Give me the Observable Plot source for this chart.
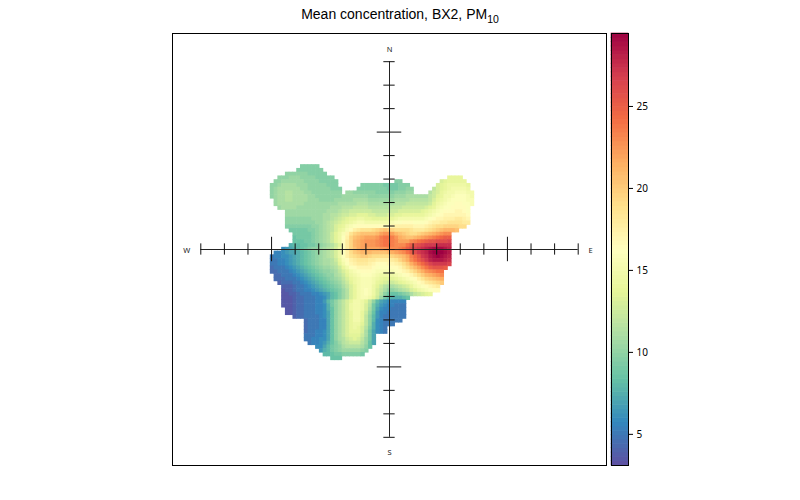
<!DOCTYPE html>
<html><head><meta charset="utf-8">
<script src="https://cdn.jsdelivr.net/npm/d3@7"></script>
<script src="https://cdn.jsdelivr.net/npm/@observablehq/plot@0.6"></script>
<style>
html,body{margin:0;padding:0;background:#fff}
#c{position:relative;width:800px;height:500px;overflow:hidden;font-family:"Liberation Sans",sans-serif}
#c svg{position:absolute;top:0;background:none}
#t{position:absolute;left:0;width:800px;top:6px;text-align:center;font-size:14px;line-height:16px;color:#000;white-space:nowrap}
#t sub{font-size:10.5px;line-height:0}
</style></head><body><div id="c"><div id="t">Mean concentration, BX2, PM<sub>10</sub></div></div>
<script>
const titleText = "Mean concentration, BX2, PM10";
const spectral = ["#5E4FA2","#3288BD","#66C2A5","#ABDDA4","#E6F598","#FFFFBF","#FEE08B","#FDAE61","#F46D43","#D53E4F","#9E0142"];
const valueRange = [3.1, 29.45];
const cbarTicks = [5,10,15,20,25];
const axisTicks = [-8,-7,-6,-5,-4,-3,-2,-1,0,1,2,3,4,5,6,7,8];
const longTicks = [-5,5];
const compassLabels = ["N","E","S","W"];
const compassX = [0,8.52,0,-8.6];
const compassY = [8.5,-0.05,-8.65,-0.05];
const cellStep = 0.16;
// row index (downward from centre), first column index
const rowIndex = [-22,-21,-20,-19,-19,-18,-18,-18,-17,-17,-17,-16,-16,-16,-15,-15,-15,-14,-13,-12,-11,-10,-9,-8,-7,-6,-5,-4,-3,-2,-1,0,1,2,3,4,5,6,7,8,9,10,11,12,13,14,15,16,17,18,19,20,21,22,23,24,25,26,27,28,29];
const rowStart = [-23,-24,-27,-29,16,-30,2,14,-31,-7,13,-31,-8,12,-31,-11,11,-31,-30,-30,-29,-27,-27,-27,-27,-27,-26,-25,-25,-25,-26,-28,-30,-31,-31,-31,-31,-31,-30,-30,-29,-28,-28,-28,-28,-28,-28,-27,-27,-25,-22,-22,-22,-22,-22,-22,-21,-19,-18,-17,-15];
const rowValues = [
[9.5,9.5,9.5,9.5,9.5],
[9.5,9.5,9.5,9.5,9.5,9.5,9.5],
[10,10,10,10,10,10,9.5,9.5,9.5,9.5,9.5],
[10,10,10,10.5,10.5,10.5,10,10,10,10,9.5,9.5,9.5,9.5,9.5],
[14,14,14,14],
[10,10,10.5,10.5,10.5,10.5,10.5,10.5,10,10,10,10,9.5,9.5,9.5,9.5,9.5],
[9.5,9.5],
[13,13.5,14,14,14,14,14],
[10,10,10.5,11,11,11,11,10.5,10.5,10.5,10,10,10,10,10,9.5,9.5,9.5],
[9.5,9.5,9.5,9.5,9.5,9.5,9,9,9,9,9.5,9.5,9.5],
[13,13.5,14,14.5,14.5,14.5,14.5,14.5,14],
[10,10.5,11,11,11,11,11,11,10.5,10.5,10,10,10,10,10,10,9.5,9.5,9.5],
[9.5,9.5,9.5,9.5,9.5,9.5,9.5,9.5,9,9,9,9.5,9.5,10,10],
[12,13,13.5,14,14.5,15,15,15,15,14.5],
[10,10.5,11,11,11.5,11.5,11,11,11,10.5,10.5,10,10,10,10,10,10,10,10],
[10.5,10.5,10,10,10,10,10,10,9.5,9.5,9.5,9.5,9.5,10,10,10,10.5,10.5],
[11.5,12.5,13,14,14.5,15,15,15.5,15.5,15.5,15,15],
[10,10.5,11,11,11.5,11.5,11,11,11,11,10.5,10.5,10,10,10,10,10,10,10, 10.5,10.5,10.5,10.5,10.5,10.5,10.5,10,10,10,10,10,10,10,10.5,10.5,10.5,11,11, 11,11,11,11,12,12.5,13.5,14,15,15,15.5,16,16,16,15.5,15],
[10.5,11,11,11.5,11.5,11,11,11,11,10.5,10.5,10.5,10,10,10,10,10.5,10.5, 10.5,10.5,10.5,11,11,11,11,10.5,10.5,10.5,10.5,10.5,10.5,10.5,11,11,11,11,11.5, 11.5,11.5,11.5,11.5,12,13,14,14.5,15,15.5,16,16,16,16,15.5,15.5],
[10.5,11,11,11,11,11,11,11,10.5,10.5,10.5,10.5,10.5,10.5,10.5,10.5,10.5,11, 11,11,11,11,11.5,11.5,11.5,11,11,11,11,11,11,11,11.5,11.5,11.5,12,12, 12,12,12,12,12.5,13.5,14.5,15,15.5,16,16,16.5,16.5,16,16,15.5],
[10.5,11,11,11,11,10.5,10.5,10.5,10.5,10.5,10.5,10.5,10.5,10.5,11,11,11, 11.5,11.5,11.5,12,12,12,12,11.5,11.5,11.5,11.5,11.5,11.5,12,12,12,12.5,12.5,12.5, 12.5,12.5,12.5,13,13.5,14,15,15.5,16,16,16.5,16.5,16.5,16.5,16],
[10.5,10.5,10.5,10.5,10.5,10.5,10.5,10.5,10.5,10.5,10.5,11,11,11,11.5, 12,12,12.5,12.5,12.5,12.5,12.5,12.5,12,12,12,12,12,12.5,12.5,13,13,13,13, 13,13,13.5,14,14.5,15,15.5,16,16.5,16.5,16.5,17,17,16.5,16],
[10.5,10.5,10.5,10.5,10.5,10.5,10.5,10.5,10.5,10.5,11,11,11.5,11.5,12, 12.5,12.5,13,13,13.5,13.5,13.5,13,13,12.5,12.5,12.5,13,13,13.5,13.5,14,14,14, 14,14,14,14.5,15,15.5,16,16.5,17,17,17,17,17,17,16.5],
[10,10,10,10,10,10,10,10.5,10.5,10.5,11,11,11.5,12,12.5, 13,13.5,14,14,14.5,14.5,14,14,13.5,13.5,13.5,13.5,14,14,14.5,15,15,15,15, 15,15,15,15.5,16,16.5,17,17,17.5,17.5,17.5,18,18,17.5,17],
[10,10,10,10,10,10,10,10,10.5,10.5,11,11.5,12,12.5,13, 13.5,14,14.5,15,15.5,15.5,15,15,15,15,15,15,15,15.5,16,16,16.5,16.5,16.5, 16,16,16,16.5,17,17.5,17.5,18,18,18.5,18.5,18.5,18.5,18,18],
[9.5,9.5,9.5,9.5,9.5,9.5,9.5,10,10,10.5,11,11.5,12,13,13.5, 14,15,15.5,16,16.5,16.5,16.5,16.5,16.5,16.5,16.5,16.5,16.5,17,17.5,17.5,17.5,17.5,17.5, 17,17,17,17.5,18,18.5,19,19,19.5,19.5,19.5,19.5,19,19],
[9,9,9,9,9,9.5,9.5,10,10.5,11,11.5,12,13,14, 14.5,15.5,16.5,17.5,18,18.5,18.5,18.5,19,19.5,20,20.5,20,19.5,19,19,19,19,18.5, 18,18,18,18.5,19,19.5,20,20.5,21,21,21,20.5],
[9,9,9,9,9,9.5,10,10.5,11,11.5,12.5,13.5,14.5, 15.5,17,18.5,19.5,20,20.5,20.5,20.5,20.5,21,22,22.5,22.5,22,21,20.5,20,19.5,19, 19,19.5,20,20.5,21,21.5,22,22.5,23,23],
[8.5,9,9,9,9,9.5,10,10.5,11,11.5,12.5,13.5,14.5, 16,17.5,19.5,20.5,21,21.5,22,22,22,22.5,23.5,24,24,23.5,22.5,21.5,21,20.5,20.5, 21,21.5,22,22.5,23,23.5,24,24.5,25,25],
[8.5,8.5,8.5,9,9,9.5,10,10.5,11,11.5,12.5,13.5,14.5, 16.5,18,19.5,21,21.5,22,22.5,22.5,22.5,23,23.5,24,24,23.5,23,22,22,22,23, 23.5,24,24.5,25,25.5,25.5,26,26,26,26.5],
[7.5,8,8,8.5,8.5,9,9,9.5,10,10.5,11,11.5,12.5,13.5, 16.5,18,19.5,21,21.5,22,22.5,22.5,22.5,23,23.5,24,24,23.5,23,23,23,24,25, 25.5,26,26.5,27,27,27,27.5,27.5,27.5,27.5],
[6,6.5,7,7.5,8,8.5,9,9.5,10,10,10.5,11,11.5,12,13,14.5, 16.5,18,19.5,20.5,21.5,22,22,22,22,22,22.5,22.5,23,23,23,23.5,24,25,26, 26.5,27,27.5,28,28.5,29,29,29,28.5,28],
[5.5,5.5,6,6.5,7,7,7.5,8,8.5,9,9.5,10,10.5,11,11.5,12,13,14.5, 16,17.5,19,20,20.5,21,21,21,20.5,20.5,20.5,20.5,21,21.5,22,22.5,23,24,25, 26,27,27.5,28,29,29.5,29.5,29.5,29,28.5],
[5,5.5,5.5,6,6,6.5,7,7.5,8,8.5,9,9.5,10,10.5,11,11.5,12,13,14.5, 16,17.5,18.5,19,19.5,20,20,19.5,19,19,19,19,19,19.5,20,20.5,21,22,23.5, 24.5,25.5,27,27.5,28.5,29,29.5,29,28.5,28],
[5,5,5.5,5.5,6,6.5,7,7.5,8,8.5,9,9.5,10,10.5,11,11,11.5,12.5,14, 15.5,16.5,17.5,18,18.5,18.5,18.5,18,18,17.5,17.5,17.5,17.5,18,18.5,19.5,20.5,21.5,23, 24,25,26,27,28,28.5,28.5,28.5,28,27.5],
[5,5,5.5,5.5,6,6.5,7,7.5,8,8.5,9,9.5,10,10.5,11,11,11.5,12,13.5, 15,16,17,17.5,18,18,18,17.5,17,16.5,16.5,16.5,17,17,17.5,18,19,20,21.5, 22.5,23.5,24.5,25.5,26.5,27,27,27,27,26.5],
[4.5,5,5,5,5.5,6,6.5,7,7.5,8,8.5,9,9.5,10,10.5,10.5,11,11.5,12.5, 14,15,16,16.5,17,17,17,17,16.5,16,16,16,16,16.5,16.5,17,18,19,20, 21,22,23,24,25,25.5,25.5,25.5,25],
[4.5,4.5,5,5,5,5.5,6,6.5,7,7.5,8,8.5,9,9.5,10,10,10.5,11,12, 13,14,15,15.5,16,16.5,16.5,16.5,16,15.5,15.5,15.5,15.5,15.5,16,16.5,17,17.5,18.5, 19.5,20.5,21.5,22.5,23,23.5,24,24],
[4.5,4.5,5,5,5,5.5,6,6.5,7,7.5,8,8.5,9,9.5,10,10,11,11.5, 12.5,13.5,14.5,15,15.5,16,16,16,15.5,15,14.5,14.5,14.5,14.5,15,15.5,16,16.5,17, 18,19,20,21,21.5,22,22.5,23],
[4.5,4.5,4.5,5,5,5,5.5,6,6.5,7,7.5,8,8.5,9,9.5,10,10.5,11, 12,13,14,14.5,15,15.5,15.5,15.5,15,14.5,14,13.5,13.5,13.5,14,14.5,15,15.5,16, 16.5,17.5,18.5,19.5,20,20.5,21,21.5],
[4,4.5,4.5,4.5,5,5,5.5,6,6.5,7,7.5,8,8.5,9,9.5,10,10.5, 11.5,12.5,13.5,14.5,15,15.5,15.5,15.5,15,14,13.5,13,12.5,12.5,13,13.5,14,14.5,15, 15.5,16.5,17,18,18.5,19,19.5,20],
[4,4,4,4.5,5,5,5.5,6,6.5,7,7.5,8,8.5,9,9.5,10, 11,12,13,14,15,15.5,15.5,15.5,14.5,13.5,12.5,11.5,11,11,11.5,12,12.5,13,14, 15,15.5,16,16.5,17,17.5,18],
[3.5,4,4,4.5,5,5,5.5,5.5,6,6.5,7,7.5,8,8.5,9,9.5, 10.5,11.5,13,14,15,15.5,16,15.5,14.5,13,12,11,10,10,10.5,11,11.5,12,13, 13.5,14.5,15,15.5,16,16.5,16.5],
[3.5,3.5,4,4,4.5,5,5,5,5.5,5.5,6,6.5,7,8,8.5,9.5, 10.5,11.5,13,14,15,15.5,16,15.5,14.5,13,11.5,10,9,8.5,8.5,9,9.5,10,11, 12,12.5,13,13.5,14],
[3.5,3.5,3.5,4,4.5,4.5,5,5,5,5.5,5.5,6,7,8,8.5,9.5, 10.5,11.5,13,14,15,15.5,15.5,15,14,12.5,10.5,9,8,7.5,7.5,7.5,8,8.5],
[3.5,3.5,3.5,4,4.5,4.5,5,5,5,5.5,5.5, 6.5,8,9,10,11,12,13,14,15,15,14.5,13.5,12, 10,8,7,6.5,6,5.5,5.5,5.5,5.5],
[3.5,3.5,3.5,4,4.5,4.5,5,5,5,5.5,5.5, 6,7.5,9,10,11,12,13,14.5,15,15,14.5,13,11.5, 9,7.5,6.5,6,5.5,5.5,5,5,5],
[3.5,3.5,4,4.5,4.5,5,5,5,5.5,5.5, 6,7.5,8.5,10,11,12,13,14.5,15,15,14.5,13,11, 9,7,6,5.5,5.5,5,5,5,5],
[3.5,3.5,4,4.5,4.5,5,5,5,5.5,5.5, 6,7,8.5,10,11,12,13,14,15,15,14,12.5,10.5, 8.5,6.5,5.5,5.5,5,5,5,5,5],
[4,4.5,4.5,5,5,5,5,5.5, 6,7,8.5,10,11,12,13,14,15,15,14,12,10, 8,6.5,5.5,5,5,5,5,5,5],
[4.5,5,5,5,5.5, 5.5,7,8.5,10,11,12,13,14,15,15,14,12,10, 8,6,5.5,5,5,5,5,5],
[4.5,5,5,5,5.5, 5.5,7,8.5,10,11,12,13,14,14.5,14.5,13.5,12,10, 7.5,6,5.5,5,5,5],
[4.5,5,5,5,5.5, 5.5,7,8.5,10,11,12,13,14,14.5,14,13,11.5,9.5, 7.5,6,5.5,5],
[4.5,5,5,5.5,5.5, 6,7,8.5,10,11,12,13,14,14,14,13,11,9, 7,6,5.5,5],
[5,5,5,5.5,5.5, 6,7,8.5,10,11,12,13,13.5,13.5,13.5,12.5,11,9, 7],
[5,5,5.5,5.5,6, 6,7,8.5,10,11,11.5,12.5,13,13.5,13,12,10.5,9, 7],
[5,5.5,5.5,6, 6.5,7.5,8.5,9.5,10.5,11.5,12,12.5,12.5,12.5,11.5,10.5,8.5, 7],
[6,6, 7,8,9,9.5,10,11,11.5,11.5,11.5,11.5,11,10,8.5],
[6.5, 7.5,8,9,9.5,10,10.5,10.5,10.5,10.5,10.5,10,9.5],
[8,8,8.5,9,9,9.5,9.5,9.5,9.5,9.5,9],
[8.5,8.5,8.5]
];
const cells = rowValues.flatMap((vals, r) => vals.map((v, k) => ({
  col: rowStart[r] + k, row: rowIndex[r], v
})));
const colorScale = {type:"linear", domain:valueRange, interpolate:d3.piecewise(d3.interpolateRgb, spectral)};
const crisp = {style:"shape-rendering:crispEdges", inset:-0.3};

const main = Plot.plot({
  width:800, height:500,
  marginLeft:172, marginRight:194, marginTop:33, marginBottom:35,
  x:{domain:[-9.2,9.2], axis:null},
  y:{domain:[-9.2,9.2], axis:null},
  color:colorScale,
  marks:[
    Plot.rect(cells,{
      x1:d=>(d.col-0.5)*cellStep, x2:d=>(d.col+0.5)*cellStep,
      y1:d=>-(d.row-0.5)*cellStep, y2:d=>-(d.row+0.5)*cellStep,
      fill:"v", ...crisp}),
    Plot.ruleY([0],{x1:-8,x2:8,stroke:"#222"}),
    Plot.ruleX([0],{y1:-8,y2:8,stroke:"#222"}),
    Plot.ruleX(axisTicks,{y1:d=>longTicks.includes(d)?-0.52:-0.24,y2:d=>longTicks.includes(d)?0.52:0.24,stroke:"#111"}),
    Plot.ruleY(axisTicks,{x1:d=>longTicks.includes(d)?-0.52:-0.24,x2:d=>longTicks.includes(d)?0.52:0.24,stroke:"#111"}),
    Plot.text(compassLabels,{x:(d,i)=>compassX[i],y:(d,i)=>compassY[i],text:d=>d,fontSize:7.5,fill:"#222"}),
    Plot.frame({stroke:"#000"})
  ]
});
main.style.left="0";
document.getElementById("c").appendChild(main);

const levelCount = 100;
const levelStep = (valueRange[1]-valueRange[0])/levelCount;
const levels = d3.range(levelCount).map(k=>valueRange[0]+k*levelStep);
const bar = Plot.plot({
  width:60, height:500,
  marginLeft:11, marginRight:32, marginTop:33, marginBottom:35,
  x:{domain:[0,1], axis:null},
  y:{domain:valueRange, axis:null},
  color:colorScale,
  marks:[
    Plot.rect(levels,{x1:0,x2:1,y1:d=>d,y2:d=>d+levelStep,fill:d=>d+levelStep/2,...crisp}),
    Plot.frame({stroke:"#000"}),
    Plot.axisY(cbarTicks,{anchor:"right",tickSize:4,tickPadding:4,fontSize:10,label:null,color:"#000"})
  ]
});
bar.style.left="600px";
document.getElementById("c").appendChild(bar);
</script></body></html>
